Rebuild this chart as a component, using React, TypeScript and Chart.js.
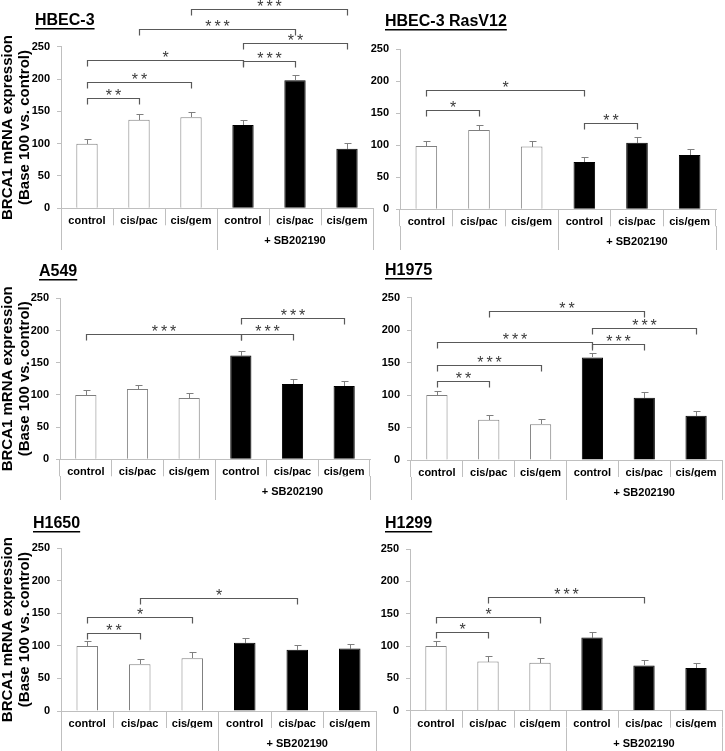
import React, { useEffect, useRef } from 'react';
import { Chart, registerables } from 'chart.js';

Chart.register(...registerables);

// ---------------- data ----------------
const categories = ['control', 'cis/pac', 'cis/gem', 'control', 'cis/pac', 'cis/gem'];
const groupLabels = ['', '+ SB202190'];
const yAxisTitle = ['BRCA1 mRNA expression', '(Base 100 vs. control)'];

type Sig = [number, number, number, string]; // from index, to index, bracket level, label

const hbec3Values = [100, 137, 141, 129, 198, 92];
const hbec3Errors = [7, 9, 8, 7, 8, 9];
const hbec3Sig: Sig[] = [
  [0, 1, 170, '**'], [0, 2, 196, '**'], [0, 3, 230, '*'], [3, 4, 228, '***'],
  [3, 5, 255, '**'], [1, 4, 278, '***'], [2, 5, 308, '***'],
];

const rasValues = [99, 124, 98, 74, 104, 85];
const rasErrors = [7, 8, 8, 8, 9, 9];
const rasSig: Sig[] = [[0, 1, 155, '*'], [0, 3, 186, '*'], [3, 4, 135, '**']];

const a549Values = [100, 109, 95, 161, 117, 114];
const a549Errors = [7, 7, 8, 7, 7, 8];
const a549Sig: Sig[] = [[0, 3, 194, '***'], [3, 4, 194, '***'], [3, 5, 219, '***']];

const h1975Values = [100, 62, 55, 158, 96, 68];
const h1975Errors = [6, 8, 8, 7, 8, 8];
const h1975Sig: Sig[] = [
  [0, 1, 122, '**'], [0, 2, 146, '***'], [0, 3, 182, '***'], [3, 4, 179, '***'],
  [3, 5, 204, '***'], [1, 4, 230, '**'],
];

const h1650Values = [100, 72, 81, 105, 94, 96];
const h1650Errors = [7, 8, 9, 7, 8, 7];
const h1650Sig: Sig[] = [[0, 1, 120, '**'], [0, 2, 145, '*'], [1, 4, 174, '*']];

const h1299Values = [100, 76, 74, 113, 70, 66];
const h1299Errors = [7, 8, 8, 8, 8, 8];
const h1299Sig: Sig[] = [[0, 1, 121, '*'], [0, 2, 145, '*'], [1, 4, 176, '***']];

// ---------------- styles ----------------
const FONT = '"Liberation Sans", Arial, Helvetica, sans-serif';
const AXIS = '#bfbfbf';
const WHITE_BORDER = '#7f7f7f';
const ERR = '#7f7f7f';
const BRACKET = '#595959';
const STAR = '#3a3a3a';

interface PanelSpec {
  title: string;
  values: number[];
  errors: number[];
  sig: Sig[];
  yTitle: boolean;
  box: { left: number; top: number; width: number; height: number };
  area: { left: number; right: number; top: number; bottom: number };
  titlePos: { x: number; y: number };
}

const panels: PanelSpec[] = [
  {
    title: 'HBEC-3', values: hbec3Values, errors: hbec3Errors, sig: hbec3Sig, yTitle: true,
    box: { left: 0, top: 0, width: 380, height: 250 },
    area: { left: 61, right: 373, top: 46.7, bottom: 208.3 },
    titlePos: { x: 35, y: 25 },
  },
  {
    title: 'HBEC-3 RasV12', values: rasValues, errors: rasErrors, sig: rasSig, yTitle: false,
    box: { left: 362, top: 0, width: 363, height: 250 },
    area: { left: 38, right: 354, top: 49.3, bottom: 209.3 },
    titlePos: { x: 23, y: 26 },
  },
  {
    title: 'A549', values: a549Values, errors: a549Errors, sig: a549Sig, yTitle: true,
    box: { left: 0, top: 250, width: 380, height: 250 },
    area: { left: 60, right: 370, top: 48.3, bottom: 209.3 },
    titlePos: { x: 39, y: 26 },
  },
  {
    title: 'H1975', values: h1975Values, errors: h1975Errors, sig: h1975Sig, yTitle: false,
    box: { left: 362, top: 250, width: 363, height: 250 },
    area: { left: 49, right: 360, top: 47.7, bottom: 210 },
    titlePos: { x: 23, y: 25 },
  },
  {
    title: 'H1650', values: h1650Values, errors: h1650Errors, sig: h1650Sig, yTitle: true,
    box: { left: 0, top: 500, width: 380, height: 251 },
    area: { left: 61, right: 376, top: 48.3, bottom: 211 },
    titlePos: { x: 33, y: 28 },
  },
  {
    title: 'H1299', values: h1299Values, errors: h1299Errors, sig: h1299Sig, yTitle: false,
    box: { left: 362, top: 500, width: 363, height: 251 },
    area: { left: 48, right: 360, top: 49, bottom: 210.7 },
    titlePos: { x: 23, y: 28 },
  },
];

const X_TICK_LEN = 17;

function makeAnnot(spec: PanelSpec) {
  return {
    id: 'annot',
    afterDatasetsDraw(chart: any) {
      const ctx: CanvasRenderingContext2D = chart.ctx;
      const xs = chart.scales.x;
      const ys = chart.scales.y;
      const meta = chart.getDatasetMeta(0);
      ctx.save();
      // error bars (upper half)
      ctx.strokeStyle = ERR;
      ctx.lineWidth = 1;
      spec.values.forEach((v, i) => {
        const bar = meta.data[i];
        const x = Math.round(bar.x) + 0.5;
        const y0 = Math.round(ys.getPixelForValue(v));
        const y1 = Math.round(ys.getPixelForValue(v + spec.errors[i])) + 0.5;
        ctx.beginPath();
        ctx.moveTo(x, y0);
        ctx.lineTo(x, y1);
        ctx.moveTo(x - 3, y1);
        ctx.lineTo(x + 4, y1);
        ctx.stroke();
      });
      // significance brackets
      spec.sig.forEach(([a, b, level, label]) => {
        const xa = Math.round(xs.getPixelForValue(a)) + 0.5;
        const xb = Math.round(xs.getPixelForValue(b)) + 0.5;
        const y = Math.round(ys.getPixelForValue(level)) + 0.5;
        ctx.strokeStyle = BRACKET;
        ctx.lineWidth = 1.2;
        ctx.beginPath();
        ctx.moveTo(xa, y + 6);
        ctx.lineTo(xa, y);
        ctx.lineTo(xb, y);
        ctx.lineTo(xb, y + 6);
        ctx.stroke();
        ctx.fillStyle = STAR;
        ctx.font = `16px ${FONT}`;
        ctx.textAlign = 'center';
        ctx.textBaseline = 'alphabetic';
        (ctx as any).letterSpacing = '3px';
        ctx.fillText(label, (xa + xb) / 2 + 1.5, y + 2.5);
        (ctx as any).letterSpacing = '0px';
      });
      // panel title, underlined
      ctx.fillStyle = '#000';
      ctx.font = `bold 16px ${FONT}`;
      ctx.textAlign = 'left';
      ctx.textBaseline = 'alphabetic';
      ctx.fillText(spec.title, spec.titlePos.x, spec.titlePos.y);
      const w = ctx.measureText(spec.title).width;
      ctx.fillRect(spec.titlePos.x, spec.titlePos.y + 3, w, 1.5);
      ctx.restore();
    },
  };
}

function Panel({ spec }: { spec: PanelSpec }) {
  const ref = useRef<HTMLCanvasElement>(null);
  useEffect(() => {
    const { box, area } = spec;
    const x2Height = box.height - area.bottom - X_TICK_LEN;
    const tickFont = { family: FONT, size: 11, weight: 'bold' as const };
    const chart = new Chart(ref.current!, {
      type: 'bar',
      data: {
        labels: categories,
        datasets: [
          {
            data: spec.values,
            backgroundColor: spec.values.map((_, i) => (i < 3 ? '#ffffff' : '#000000')),
            borderColor: spec.values.map((_, i) => (i < 3 ? WHITE_BORDER : '#000000')),
            borderWidth: 1,
            categoryPercentage: 1,
            barPercentage: 0.41,
          },
        ],
      },
      options: {
        animation: false,
        responsive: false,
        maintainAspectRatio: false,
        events: [],
        layout: {
          autoPadding: false,
          padding: { left: 0, right: box.width - area.right, top: area.top, bottom: 0 },
        },
        plugins: {
          legend: { display: false },
          tooltip: { enabled: false },
          title: { display: false },
        },
        scales: {
          y: {
            min: 0,
            max: 250,
            ticks: { stepSize: 50, font: tickFont, color: '#000', padding: 7 },
            grid: { drawOnChartArea: false, tickLength: 4, color: AXIS },
            border: { color: AXIS },
            title: {
              display: spec.yTitle,
              text: yAxisTitle,
              color: '#000',
              padding: 0,
              font: { family: FONT, size: 15, weight: 'bold', lineHeight: 1.1 },
            },
            afterFit: (s: any) => {
              s.width = area.left;
            },
          },
          x: {
            type: 'category',
            position: 'bottom',
            weight: 0,
            offset: true,
            grid: { offset: true, drawOnChartArea: false, tickLength: X_TICK_LEN, color: AXIS },
            border: { color: AXIS },
            ticks: { font: tickFont, color: '#000', padding: -10.6, autoSkip: false, maxRotation: 0 },
            afterFit: (s: any) => {
              s.height = X_TICK_LEN;
            },
          },
          x2: {
            type: 'category',
            position: 'bottom',
            weight: 1,
            labels: groupLabels,
            offset: true,
            grid: { offset: true, drawOnChartArea: false, tickLength: x2Height, color: AXIS },
            border: { display: false },
            ticks: { font: tickFont, color: '#000', padding: 9.4 - x2Height, autoSkip: false, maxRotation: 0 },
            afterFit: (s: any) => {
              s.height = x2Height;
            },
          },
        },
      } as any,
      plugins: [makeAnnot(spec)],
    });
    return () => chart.destroy();
  }, [spec]);
  const { box } = spec;
  return (
    <canvas
      ref={ref}
      width={box.width}
      height={box.height}
      style={{ position: 'absolute', left: box.left, top: box.top, width: box.width, height: box.height }}
    />
  );
}

export default function App() {
  return (
    <div style={{ position: 'absolute', left: 0, top: 0, width: 725, height: 751, background: '#fff' }}>
      {panels.map((p) => (
        <Panel key={p.title} spec={p} />
      ))}
    </div>
  );
}
